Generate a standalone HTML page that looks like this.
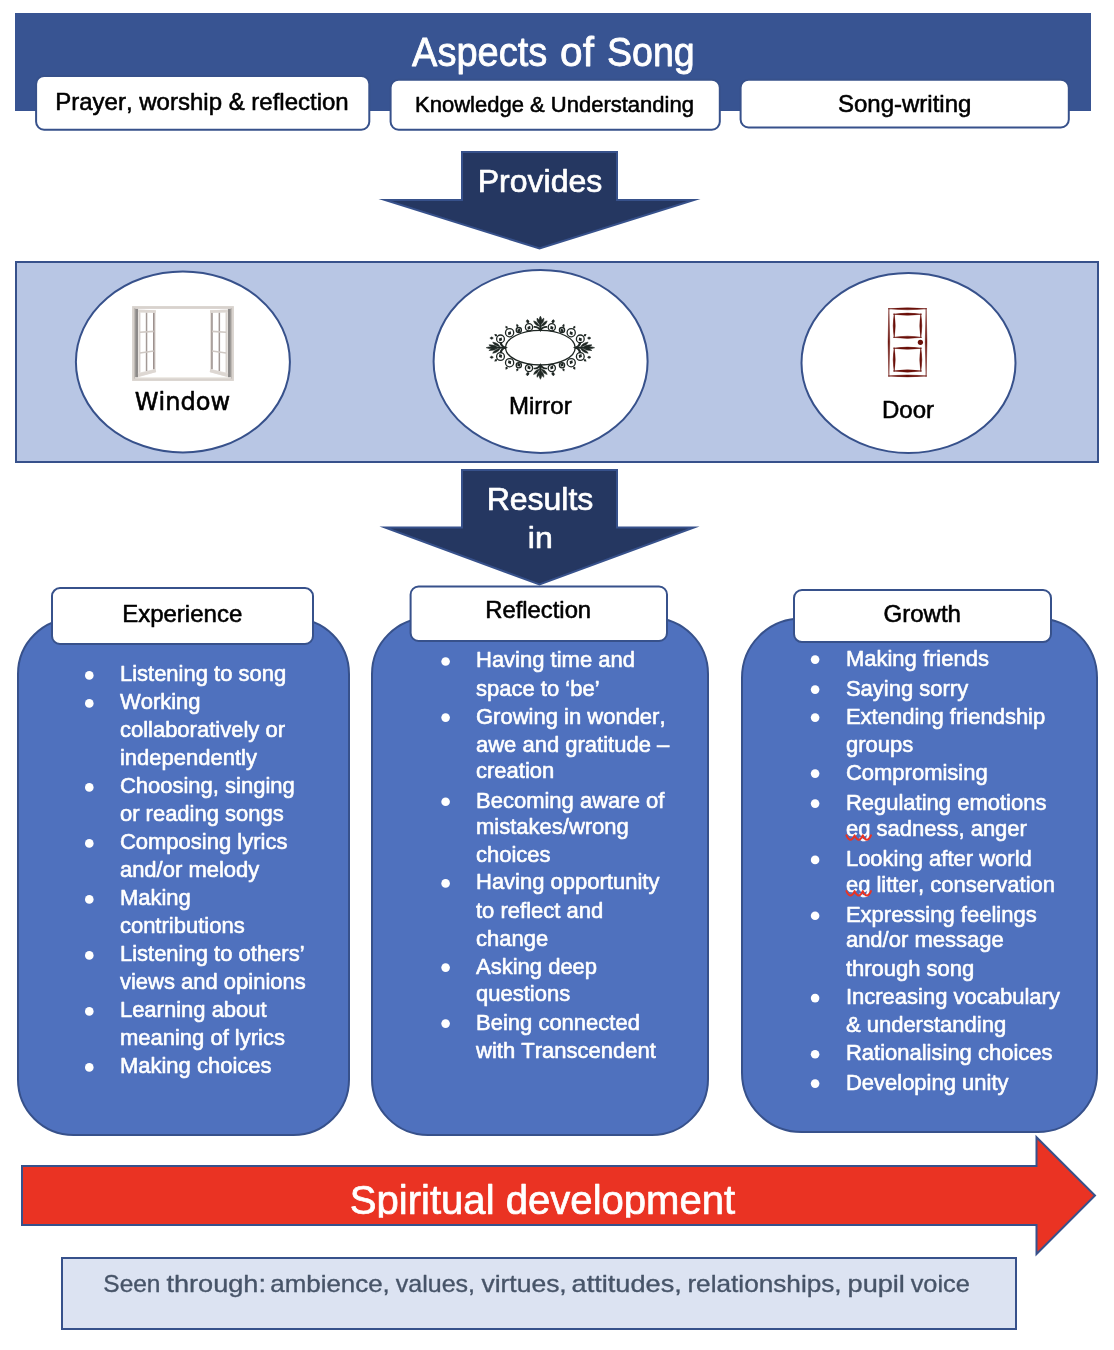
<!DOCTYPE html>
<html lang="en">
<head>
<meta charset="utf-8">
<title>Aspects of Song</title>
<style>
html,body{margin:0;padding:0;background:#fff;}
body{width:1114px;height:1350px;overflow:hidden;}
svg{display:block;will-change:transform;}
text{font-family:"Liberation Sans",sans-serif;font-kerning:none;font-variant-ligatures:none;stroke-width:0.4px;stroke-linejoin:round;}
.dj{font-family:"DejaVu Sans","Liberation Sans",sans-serif;}
.w{fill:#fff;stroke:#fff;stroke-width:0.7px;}
.k{fill:#000;stroke:#000;stroke-width:0.55px;}
.li{font-size:22px;fill:#fff;stroke:#fff;stroke-width:0.6px;}
.lab{font-size:24px;fill:#000;stroke:#000;stroke-width:0.55px;}
</style>
</head>
<body>
<svg width="1114" height="1350" viewBox="0 0 1114 1350">

<rect x="15" y="13" width="1076" height="98" fill="#385492"/>
<text y="65.8" font-size="41" class="w" style="stroke-width:0.8px"><tspan x="412.1" textLength="135.16" lengthAdjust="spacingAndGlyphs">Aspects</tspan> <tspan x="560.11" textLength="33.79" lengthAdjust="spacingAndGlyphs">of</tspan> <tspan x="606.98" textLength="87.67" lengthAdjust="spacingAndGlyphs">Song</tspan></text>
<rect x="36.1" y="75.9" width="333.2" height="53.79999999999998" rx="8" ry="8" fill="#fff" stroke="#37518B" stroke-width="2"/>
<rect x="390.6" y="79.8" width="329.19999999999993" height="49.89999999999999" rx="8" ry="8" fill="#fff" stroke="#37518B" stroke-width="2"/>
<rect x="740.6" y="79.8" width="328.19999999999993" height="47.7" rx="8" ry="8" fill="#fff" stroke="#37518B" stroke-width="2"/>
<text x="202" y="109.5" text-anchor="middle" font-size="24" class="k">Prayer, worship &amp; reflection</text>
<text x="554.5" y="111.5" text-anchor="middle" font-size="22" class="k">Knowledge &amp; Understanding</text>
<text x="904.7" y="111.5" text-anchor="middle" font-size="24" class="k">Song-writing</text>
<polygon points="462,152 617,152 617,200 694,200 539.5,248.55 385,200 462,200" fill="#253761" stroke="#37518B" stroke-width="2" stroke-linejoin="miter" stroke-miterlimit="12"/>
<text x="540" y="191.5" text-anchor="middle" font-size="32" class="w">Provides</text>
<rect x="16" y="262" width="1082" height="200" fill="#B8C6E4" stroke="#37518B" stroke-width="2"/>
<ellipse cx="182.9" cy="361.9" rx="107" ry="90.5" fill="#fff" stroke="#37518B" stroke-width="2"/>
<ellipse cx="540.6" cy="361.4" rx="107" ry="91.5" fill="#fff" stroke="#37518B" stroke-width="2"/>
<ellipse cx="908.5" cy="362.9" rx="107" ry="90" fill="#fff" stroke="#37518B" stroke-width="2"/>
<g id="window-icon">
<rect x="132.1" y="306.1" width="101.8" height="74.8" fill="#D8D2CD"/>
<rect x="134.9" y="308.9" width="96.2" height="69" fill="#FFFFFF"/>
<rect x="134.9" y="308.9" width="3.2" height="69" fill="#8D8A89"/>
<rect x="227.9" y="308.9" width="3.2" height="69" fill="#8D8A89"/>
<rect x="134.2" y="308.2" width="1.2" height="70.4" fill="#B9B3AF"/>
<rect x="230.6" y="308.2" width="1.2" height="70.4" fill="#B9B3AF"/>
<rect x="134.9" y="377.2" width="96.2" height="1.2" fill="#EAE6E2"/>
<polygon points="138.1,309.6 155.8,310.2 155.8,372.3 138.1,377.2" fill="#E6E1DD"/>
<polygon points="139.9,312.4 153.8,312.8 153.8,369.3 139.9,372.6" fill="#FFFFFF"/>
<line x1="153.8" y1="312.8" x2="153.8" y2="369.3" stroke="#8C7F7C" stroke-width="1.3"/>
<line x1="139.9" y1="312.4" x2="139.9" y2="372.6" stroke="#C9C2BD" stroke-width="0.8"/>
<line x1="146.55" y1="312.6" x2="146.55" y2="371" stroke="#A39996" stroke-width="1.5"/>
<line x1="139.9" y1="332.2" x2="153.8" y2="331.4" stroke="#CFC8C3" stroke-width="1.6"/>
<line x1="139.9" y1="353" x2="153.8" y2="351" stroke="#CFC8C3" stroke-width="1.6"/>
<line x1="138.1" y1="311" x2="155.8" y2="311.5" stroke="#DDD7D2" stroke-width="2.6"/>
<line x1="138.1" y1="375.2" x2="155.8" y2="370.6" stroke="#DDD7D2" stroke-width="3"/>
<polygon points="227.9,309.6 210.0,310.2 210.0,372.3 227.9,377.2" fill="#E6E1DD"/>
<polygon points="226.1,312.4 212.0,312.8 212.0,369.3 226.1,372.6" fill="#FFFFFF"/>
<line x1="212.0" y1="312.8" x2="212.0" y2="369.3" stroke="#8C7F7C" stroke-width="1.3"/>
<line x1="226.1" y1="312.4" x2="226.1" y2="372.6" stroke="#C9C2BD" stroke-width="0.8"/>
<line x1="219.35000000000002" y1="312.6" x2="219.35000000000002" y2="371" stroke="#A39996" stroke-width="1.5"/>
<line x1="226.1" y1="332.2" x2="212.0" y2="331.4" stroke="#CFC8C3" stroke-width="1.6"/>
<line x1="226.1" y1="353" x2="212.0" y2="351" stroke="#CFC8C3" stroke-width="1.6"/>
<line x1="227.9" y1="311" x2="210.0" y2="311.5" stroke="#DDD7D2" stroke-width="2.6"/>
<line x1="227.9" y1="375.2" x2="210.0" y2="370.6" stroke="#DDD7D2" stroke-width="3"/>
</g>
<g id="mirror-icon" transform="translate(540.4,347.7)">
<ellipse cx="0" cy="0" rx="34.8" ry="17.3" fill="#fff" stroke="#1E2623" stroke-width="1.3"/>
<g transform="translate(0.00,-17.60) rotate(0.0) scale(1.0,1.0)"><path d="M0,-14 C1.7,-11.5 1.7,-8.5 0,-6.3 C-1.7,-8.5 -1.7,-11.5 0,-14Z M-3.4,-12 C-1.6,-11 -0.5,-9 -0.7,-6 C-2.7,-7.2 -3.8,-9.5 -3.4,-12Z M3.4,-12 C1.6,-11 0.5,-9 0.7,-6 C2.7,-7.2 3.8,-9.5 3.4,-12Z M-6.8,-9.2 C-4.2,-8.8 -1.9,-6.8 -0.9,-3.8 C-3.9,-4.3 -6.1,-6.3 -6.8,-9.2Z M6.8,-9.2 C4.2,-8.8 1.9,-6.8 0.9,-3.8 C3.9,-4.3 6.1,-6.3 6.8,-9.2Z M-0.8,-7 L0.8,-7 L0.9,0 L-0.9,0Z" fill="#1E2623" stroke="#1E2623" stroke-width="0.5" stroke-linejoin="round"/><path d="M-6,-3.2 C-3.4,-3.2 -1.2,-1.8 0,0.3 C1.2,-1.8 3.4,-3.2 6,-3.2" fill="none" stroke="#1E2623" stroke-width="1.7" stroke-linecap="round"/></g>
<g transform="translate(0.00,17.60) rotate(180.0) scale(1.0,1.0)"><path d="M0,-14 C1.7,-11.5 1.7,-8.5 0,-6.3 C-1.7,-8.5 -1.7,-11.5 0,-14Z M-3.4,-12 C-1.6,-11 -0.5,-9 -0.7,-6 C-2.7,-7.2 -3.8,-9.5 -3.4,-12Z M3.4,-12 C1.6,-11 0.5,-9 0.7,-6 C2.7,-7.2 3.8,-9.5 3.4,-12Z M-6.8,-9.2 C-4.2,-8.8 -1.9,-6.8 -0.9,-3.8 C-3.9,-4.3 -6.1,-6.3 -6.8,-9.2Z M6.8,-9.2 C4.2,-8.8 1.9,-6.8 0.9,-3.8 C3.9,-4.3 6.1,-6.3 6.8,-9.2Z M-0.8,-7 L0.8,-7 L0.9,0 L-0.9,0Z" fill="#1E2623" stroke="#1E2623" stroke-width="0.5" stroke-linejoin="round"/><path d="M-6,-3.2 C-3.4,-3.2 -1.2,-1.8 0,0.3 C1.2,-1.8 3.4,-3.2 6,-3.2" fill="none" stroke="#1E2623" stroke-width="1.7" stroke-linecap="round"/></g>
<g transform="translate(-35.20,0.00) rotate(-90.0) scale(0.82,1.36)"><path d="M0,-14 C1.7,-11.5 1.7,-8.5 0,-6.3 C-1.7,-8.5 -1.7,-11.5 0,-14Z M-3.4,-12 C-1.6,-11 -0.5,-9 -0.7,-6 C-2.7,-7.2 -3.8,-9.5 -3.4,-12Z M3.4,-12 C1.6,-11 0.5,-9 0.7,-6 C2.7,-7.2 3.8,-9.5 3.4,-12Z M-6.8,-9.2 C-4.2,-8.8 -1.9,-6.8 -0.9,-3.8 C-3.9,-4.3 -6.1,-6.3 -6.8,-9.2Z M6.8,-9.2 C4.2,-8.8 1.9,-6.8 0.9,-3.8 C3.9,-4.3 6.1,-6.3 6.8,-9.2Z M-0.8,-7 L0.8,-7 L0.9,0 L-0.9,0Z" fill="#1E2623" stroke="#1E2623" stroke-width="0.5" stroke-linejoin="round"/><path d="M-6,-3.2 C-3.4,-3.2 -1.2,-1.8 0,0.3 C1.2,-1.8 3.4,-3.2 6,-3.2" fill="none" stroke="#1E2623" stroke-width="1.7" stroke-linecap="round"/></g>
<g transform="translate(35.20,0.00) rotate(90.0) scale(0.82,1.36)"><path d="M0,-14 C1.7,-11.5 1.7,-8.5 0,-6.3 C-1.7,-8.5 -1.7,-11.5 0,-14Z M-3.4,-12 C-1.6,-11 -0.5,-9 -0.7,-6 C-2.7,-7.2 -3.8,-9.5 -3.4,-12Z M3.4,-12 C1.6,-11 0.5,-9 0.7,-6 C2.7,-7.2 3.8,-9.5 3.4,-12Z M-6.8,-9.2 C-4.2,-8.8 -1.9,-6.8 -0.9,-3.8 C-3.9,-4.3 -6.1,-6.3 -6.8,-9.2Z M6.8,-9.2 C4.2,-8.8 1.9,-6.8 0.9,-3.8 C3.9,-4.3 6.1,-6.3 6.8,-9.2Z M-0.8,-7 L0.8,-7 L0.9,0 L-0.9,0Z" fill="#1E2623" stroke="#1E2623" stroke-width="0.5" stroke-linejoin="round"/><path d="M-6,-3.2 C-3.4,-3.2 -1.2,-1.8 0,0.3 C1.2,-1.8 3.4,-3.2 6,-3.2" fill="none" stroke="#1E2623" stroke-width="1.7" stroke-linecap="round"/></g>
<circle cx="-39.90" cy="-8.80" r="3.9" fill="none" stroke="#1E2623" stroke-width="1.3"/>
<path transform="translate(-39.90,-8.30) rotate(30)" d="M0,-2.3 L1.8,0 L0,2.3 L-1.8,0Z" fill="#1E2623"/>
<path transform="translate(-44.51,-12.49) rotate(-51)" d="M0,-2.0 L1.3,0 L0,1.6 L-1.3,0Z" fill="#1E2623"/>
<circle cx="-30.80" cy="-15.00" r="4.1" fill="none" stroke="#1E2623" stroke-width="1.3"/>
<path transform="translate(-30.80,-14.50) rotate(30)" d="M0,-2.3 L1.8,0 L0,2.3 L-1.8,0Z" fill="#1E2623"/>
<path transform="translate(-33.80,-20.31) rotate(-30)" d="M0,-2.0 L1.3,0 L0,1.6 L-1.3,0Z" fill="#1E2623"/>
<circle cx="-21.60" cy="-17.60" r="2.6" fill="none" stroke="#1E2623" stroke-width="1.3"/>
<path transform="translate(-21.60,-17.10) rotate(30)" d="M0,-2.3 L1.8,0 L0,2.3 L-1.8,0Z" fill="#1E2623"/>
<path transform="translate(-23.07,-21.96) rotate(-19)" d="M0,-2.0 L1.3,0 L0,1.6 L-1.3,0Z" fill="#1E2623"/>
<circle cx="-11.40" cy="-20.40" r="3.6" fill="none" stroke="#1E2623" stroke-width="1.3"/>
<path transform="translate(-11.40,-19.90) rotate(30)" d="M0,-2.3 L1.8,0 L0,2.3 L-1.8,0Z" fill="#1E2623"/>
<path transform="translate(-12.25,-25.93) rotate(-9)" d="M0,-2.0 L1.3,0 L0,1.6 L-1.3,0Z" fill="#1E2623"/>
<path transform="translate(13.00,-26.60) rotate(180)" d="M0,-2.0 L1.3,0 L0,1.6 L-1.3,0Z" fill="#1E2623" stroke="#1E2623" stroke-width="0.4"/>
<path transform="translate(48.60,-9.60) rotate(90)" d="M0,-2.0 L1.3,0 L0,1.6 L-1.3,0Z" fill="#1E2623" stroke="#1E2623" stroke-width="0.4"/>
<circle cx="-39.90" cy="8.80" r="3.9" fill="none" stroke="#1E2623" stroke-width="1.3"/>
<path transform="translate(-39.90,8.30) rotate(-30)" d="M0,-2.3 L1.8,0 L0,2.3 L-1.8,0Z" fill="#1E2623"/>
<path transform="translate(-44.51,12.49) rotate(231)" d="M0,-2.0 L1.3,0 L0,1.6 L-1.3,0Z" fill="#1E2623"/>
<circle cx="-30.80" cy="15.00" r="4.1" fill="none" stroke="#1E2623" stroke-width="1.3"/>
<path transform="translate(-30.80,14.50) rotate(-30)" d="M0,-2.3 L1.8,0 L0,2.3 L-1.8,0Z" fill="#1E2623"/>
<path transform="translate(-33.80,20.31) rotate(210)" d="M0,-2.0 L1.3,0 L0,1.6 L-1.3,0Z" fill="#1E2623"/>
<circle cx="-21.60" cy="17.60" r="2.6" fill="none" stroke="#1E2623" stroke-width="1.3"/>
<path transform="translate(-21.60,17.10) rotate(-30)" d="M0,-2.3 L1.8,0 L0,2.3 L-1.8,0Z" fill="#1E2623"/>
<path transform="translate(-23.07,21.96) rotate(199)" d="M0,-2.0 L1.3,0 L0,1.6 L-1.3,0Z" fill="#1E2623"/>
<circle cx="-11.40" cy="20.40" r="3.6" fill="none" stroke="#1E2623" stroke-width="1.3"/>
<path transform="translate(-11.40,19.90) rotate(-30)" d="M0,-2.3 L1.8,0 L0,2.3 L-1.8,0Z" fill="#1E2623"/>
<path transform="translate(-12.25,25.93) rotate(189)" d="M0,-2.0 L1.3,0 L0,1.6 L-1.3,0Z" fill="#1E2623"/>
<path transform="translate(13.00,26.60) rotate(0)" d="M0,-2.0 L1.3,0 L0,1.6 L-1.3,0Z" fill="#1E2623" stroke="#1E2623" stroke-width="0.4"/>
<path transform="translate(48.60,9.60) rotate(90)" d="M0,-2.0 L1.3,0 L0,1.6 L-1.3,0Z" fill="#1E2623" stroke="#1E2623" stroke-width="0.4"/>
<circle cx="39.90" cy="-8.80" r="3.9" fill="none" stroke="#1E2623" stroke-width="1.3"/>
<path transform="translate(39.90,-8.30) rotate(-30)" d="M0,-2.3 L1.8,0 L0,2.3 L-1.8,0Z" fill="#1E2623"/>
<path transform="translate(44.51,-12.49) rotate(51)" d="M0,-2.0 L1.3,0 L0,1.6 L-1.3,0Z" fill="#1E2623"/>
<circle cx="30.80" cy="-15.00" r="4.1" fill="none" stroke="#1E2623" stroke-width="1.3"/>
<path transform="translate(30.80,-14.50) rotate(-30)" d="M0,-2.3 L1.8,0 L0,2.3 L-1.8,0Z" fill="#1E2623"/>
<path transform="translate(33.80,-20.31) rotate(30)" d="M0,-2.0 L1.3,0 L0,1.6 L-1.3,0Z" fill="#1E2623"/>
<circle cx="21.60" cy="-17.60" r="2.6" fill="none" stroke="#1E2623" stroke-width="1.3"/>
<path transform="translate(21.60,-17.10) rotate(-30)" d="M0,-2.3 L1.8,0 L0,2.3 L-1.8,0Z" fill="#1E2623"/>
<path transform="translate(23.07,-21.96) rotate(19)" d="M0,-2.0 L1.3,0 L0,1.6 L-1.3,0Z" fill="#1E2623"/>
<circle cx="11.40" cy="-20.40" r="3.6" fill="none" stroke="#1E2623" stroke-width="1.3"/>
<path transform="translate(11.40,-19.90) rotate(-30)" d="M0,-2.3 L1.8,0 L0,2.3 L-1.8,0Z" fill="#1E2623"/>
<path transform="translate(12.25,-25.93) rotate(9)" d="M0,-2.0 L1.3,0 L0,1.6 L-1.3,0Z" fill="#1E2623"/>
<path transform="translate(-13.00,-26.60) rotate(180)" d="M0,-2.0 L1.3,0 L0,1.6 L-1.3,0Z" fill="#1E2623" stroke="#1E2623" stroke-width="0.4"/>
<path transform="translate(-48.60,-9.60) rotate(-90)" d="M0,-2.0 L1.3,0 L0,1.6 L-1.3,0Z" fill="#1E2623" stroke="#1E2623" stroke-width="0.4"/>
<circle cx="39.90" cy="8.80" r="3.9" fill="none" stroke="#1E2623" stroke-width="1.3"/>
<path transform="translate(39.90,8.30) rotate(30)" d="M0,-2.3 L1.8,0 L0,2.3 L-1.8,0Z" fill="#1E2623"/>
<path transform="translate(44.51,12.49) rotate(129)" d="M0,-2.0 L1.3,0 L0,1.6 L-1.3,0Z" fill="#1E2623"/>
<circle cx="30.80" cy="15.00" r="4.1" fill="none" stroke="#1E2623" stroke-width="1.3"/>
<path transform="translate(30.80,14.50) rotate(30)" d="M0,-2.3 L1.8,0 L0,2.3 L-1.8,0Z" fill="#1E2623"/>
<path transform="translate(33.80,20.31) rotate(150)" d="M0,-2.0 L1.3,0 L0,1.6 L-1.3,0Z" fill="#1E2623"/>
<circle cx="21.60" cy="17.60" r="2.6" fill="none" stroke="#1E2623" stroke-width="1.3"/>
<path transform="translate(21.60,17.10) rotate(30)" d="M0,-2.3 L1.8,0 L0,2.3 L-1.8,0Z" fill="#1E2623"/>
<path transform="translate(23.07,21.96) rotate(161)" d="M0,-2.0 L1.3,0 L0,1.6 L-1.3,0Z" fill="#1E2623"/>
<circle cx="11.40" cy="20.40" r="3.6" fill="none" stroke="#1E2623" stroke-width="1.3"/>
<path transform="translate(11.40,19.90) rotate(30)" d="M0,-2.3 L1.8,0 L0,2.3 L-1.8,0Z" fill="#1E2623"/>
<path transform="translate(12.25,25.93) rotate(171)" d="M0,-2.0 L1.3,0 L0,1.6 L-1.3,0Z" fill="#1E2623"/>
<path transform="translate(-13.00,26.60) rotate(0)" d="M0,-2.0 L1.3,0 L0,1.6 L-1.3,0Z" fill="#1E2623" stroke="#1E2623" stroke-width="0.4"/>
<path transform="translate(-48.60,9.60) rotate(-90)" d="M0,-2.0 L1.3,0 L0,1.6 L-1.3,0Z" fill="#1E2623" stroke="#1E2623" stroke-width="0.4"/>
</g>
<g id="door-icon">
<path d="M888.2,308.8 Q907.5,306.8 926.8,308.8 Q907.5,310.8 888.2,308.8Z M888.2,375.9 Q907.5,373.9 926.8,375.9 Q907.5,377.9 888.2,375.9Z M888.9,308.0 Q887.1999999999999,342.35 888.9,376.7 Q890.6,342.35 888.9,308.0Z M926.1,308.0 Q924.4,342.35 926.1,376.7 Q927.8000000000001,342.35 926.1,308.0Z M893.2,314.2 Q907.5,311.9 921.8,314.2 Q907.5,316.5 893.2,314.2Z M893.2,337.3 Q907.5,335.0 921.8,337.3 Q907.5,339.6 893.2,337.3Z M894.2,313.59999999999997 Q892.1,325.75 894.2,337.90000000000003 Q896.3000000000001,325.75 894.2,313.59999999999997Z M920.8,313.59999999999997 Q918.6999999999999,325.75 920.8,337.90000000000003 Q922.9,325.75 920.8,313.59999999999997Z M893.2,348.2 Q907.5,345.9 921.8,348.2 Q907.5,350.5 893.2,348.2Z M893.2,371.0 Q907.5,368.7 921.8,371.0 Q907.5,373.3 893.2,371.0Z M894.2,347.59999999999997 Q892.1,359.6 894.2,371.6 Q896.3000000000001,359.6 894.2,347.59999999999997Z M920.8,347.59999999999997 Q918.6999999999999,359.6 920.8,371.6 Q922.9,359.6 920.8,347.59999999999997Z" fill="#6A0F08" stroke="#6A0F08" stroke-width="0.45" stroke-linejoin="round"/>
<circle cx="920.4" cy="342.3" r="2.6" fill="#6A0F08"/>
</g>
<text x="182.5" y="409.7" text-anchor="middle" font-size="24.1" class="k dj">Window</text>
<text x="540.3" y="413.5" text-anchor="middle" font-size="24" class="k">Mirror</text>
<text x="908" y="418" text-anchor="middle" font-size="24" class="k">Door</text>
<polygon points="462,470 617,470 617,527.5 694,527.5 539.5,584.5 385,527.5 462,527.5" fill="#253761" stroke="#37518B" stroke-width="2" stroke-linejoin="miter" stroke-miterlimit="12"/>
<text x="540" y="509.7" text-anchor="middle" font-size="32" class="w">Results</text>
<text transform="translate(540.3,548.1) scale(1,0.935)" x="0" y="0" text-anchor="middle" font-size="32" class="w">in</text>
<rect x="18" y="618.5" width="331" height="516.5" rx="55.5" ry="55.5" fill="#4F71BE" stroke="#37518B" stroke-width="2"/>
<rect x="372" y="618" width="336" height="517" rx="56" ry="56" fill="#4F71BE" stroke="#37518B" stroke-width="2"/>
<rect x="742" y="618.5" width="355" height="513.5" rx="59.3" ry="59.3" fill="#4F71BE" stroke="#37518B" stroke-width="2"/>
<rect x="52" y="588.1" width="261" height="55.89999999999998" rx="8" ry="8" fill="#fff" stroke="#37518B" stroke-width="2"/>
<rect x="410.6" y="586.5" width="256.4" height="54.5" rx="8" ry="8" fill="#fff" stroke="#37518B" stroke-width="2"/>
<rect x="794" y="590" width="257" height="52.10000000000002" rx="8" ry="8" fill="#fff" stroke="#37518B" stroke-width="2"/>
<text x="182.2" y="621.8" text-anchor="middle" class="lab">Experience</text>
<text x="538.2" y="617.7" text-anchor="middle" class="lab" style="font-size:23.8px">Reflection</text>
<text x="922.3" y="621.8" text-anchor="middle" class="lab">Growth</text>
<circle cx="89.3" cy="675.4" r="4.3" fill="#fff"/>
<text x="119.9" y="681.3" class="li">Listening to song</text>
<circle cx="89.3" cy="703.4" r="4.3" fill="#fff"/>
<text x="119.9" y="709.3" class="li">Working</text>
<text x="119.9" y="737.3" class="li">collaboratively or</text>
<text x="119.9" y="765.3" class="li">independently</text>
<circle cx="89.3" cy="787.4" r="4.3" fill="#fff"/>
<text x="119.9" y="793.3" class="li">Choosing, singing</text>
<text x="119.9" y="821.3" class="li">or reading songs</text>
<circle cx="89.3" cy="843.4" r="4.3" fill="#fff"/>
<text x="119.9" y="849.3" class="li">Composing lyrics</text>
<text x="119.9" y="877.3" class="li">and/or melody</text>
<circle cx="89.3" cy="899.4" r="4.3" fill="#fff"/>
<text x="119.9" y="905.3" class="li">Making</text>
<text x="119.9" y="933.3" class="li">contributions</text>
<circle cx="89.3" cy="955.4" r="4.3" fill="#fff"/>
<text x="119.9" y="961.3" class="li">Listening to others’</text>
<text x="119.9" y="989.3" class="li">views and opinions</text>
<circle cx="89.3" cy="1011.4" r="4.3" fill="#fff"/>
<text x="119.9" y="1017.3" class="li">Learning about</text>
<text x="119.9" y="1045.3" class="li">meaning of lyrics</text>
<circle cx="89.3" cy="1067.4" r="4.3" fill="#fff"/>
<text x="119.9" y="1073.3" class="li">Making choices</text>
<circle cx="445.6" cy="661.5" r="4.3" fill="#fff"/>
<text x="476" y="667.4" class="li">Having time and</text>
<text x="476" y="695.5" class="li">space to ‘be’</text>
<circle cx="445.6" cy="717.6" r="4.3" fill="#fff"/>
<text x="476" y="723.5" class="li">Growing in wonder,</text>
<text x="476" y="751.5" class="li">awe and gratitude –</text>
<text x="476" y="777.5" class="li">creation</text>
<circle cx="445.6" cy="801.8" r="4.3" fill="#fff"/>
<text x="476" y="807.7" class="li">Becoming aware of</text>
<text x="476" y="833.7" class="li">mistakes/wrong</text>
<text x="476" y="861.5" class="li">choices</text>
<circle cx="445.6" cy="883.4" r="4.3" fill="#fff"/>
<text x="476" y="889.3" class="li">Having opportunity</text>
<text x="476" y="917.5" class="li">to reflect and</text>
<text x="476" y="945.8" class="li">change</text>
<circle cx="445.6" cy="967.6" r="4.3" fill="#fff"/>
<text x="476" y="973.5" class="li">Asking deep</text>
<text x="476" y="1001.2" class="li">questions</text>
<circle cx="445.6" cy="1023.6" r="4.3" fill="#fff"/>
<text x="476" y="1029.5" class="li">Being connected</text>
<text x="476" y="1057.5" class="li">with Transcendent</text>
<circle cx="815.1" cy="659.6" r="4.3" fill="#fff"/>
<text x="845.9" y="665.5" class="li">Making friends</text>
<circle cx="815.1" cy="689.6" r="4.3" fill="#fff"/>
<text x="845.9" y="695.5" class="li">Saying sorry</text>
<circle cx="815.1" cy="717.6" r="4.3" fill="#fff"/>
<text x="845.9" y="723.5" class="li">Extending friendship</text>
<text x="845.9" y="751.6" class="li">groups</text>
<circle cx="815.1" cy="773.6" r="4.3" fill="#fff"/>
<text x="845.9" y="779.5" class="li">Compromising</text>
<circle cx="815.1" cy="803.6" r="4.3" fill="#fff"/>
<text x="845.9" y="809.5" class="li">Regulating emotions</text>
<text x="845.9" y="836" class="li">eg sadness, anger</text>
<circle cx="815.1" cy="859.9" r="4.3" fill="#fff"/>
<text x="845.9" y="865.8" class="li">Looking after world</text>
<text x="845.9" y="891.6" class="li">eg litter, conservation</text>
<circle cx="815.1" cy="915.7" r="4.3" fill="#fff"/>
<text x="845.9" y="921.6" class="li">Expressing feelings</text>
<text x="845.9" y="947.3" class="li">and/or message</text>
<text x="845.9" y="975.5" class="li">through song</text>
<circle cx="815.1" cy="998.1" r="4.3" fill="#fff"/>
<text x="845.9" y="1004" class="li">Increasing vocabulary</text>
<text x="845.9" y="1031.5" class="li">&amp; understanding</text>
<circle cx="815.1" cy="1054.3" r="4.3" fill="#fff"/>
<text x="845.9" y="1060.2" class="li">Rationalising choices</text>
<circle cx="815.1" cy="1083.6" r="4.3" fill="#fff"/>
<text x="845.9" y="1089.5" class="li">Developing unity</text>
<path d="M846.4,835.3 q4.10,8.8 8.20,0 q4.10,8.8 8.20,0 q4.10,8.8 8.20,0" fill="none" stroke="#EA3323" stroke-width="2" stroke-linecap="round" stroke-linejoin="round"/>
<path d="M846.4,891.1 q4.10,8.8 8.20,0 q4.10,8.8 8.20,0 q4.10,8.8 8.20,0" fill="none" stroke="#EA3323" stroke-width="2" stroke-linecap="round" stroke-linejoin="round"/>
<polygon points="22,1166 1036.5,1166 1036.5,1137.2 1095,1195.5 1036.5,1254 1036.5,1225 22,1225" fill="#EA3323" stroke="#37518B" stroke-width="2"/>
<clipPath id="sdclip"><rect x="300" y="1170" width="500" height="47.8"/></clipPath>
<text x="542.5" y="1214" text-anchor="middle" font-size="41" class="w" textLength="385.5" lengthAdjust="spacingAndGlyphs" clip-path="url(#sdclip)">Spiritual development</text>
<rect x="62" y="1258" width="954" height="71" fill="#DCE3F2" stroke="#37518B" stroke-width="2"/>
<text y="1292" font-size="24" fill="#475468" stroke="#475468" style="stroke-width:0.35px"><tspan x="103.38" textLength="57.09" lengthAdjust="spacingAndGlyphs">Seen</tspan> <tspan x="166.4" textLength="99.59" lengthAdjust="spacingAndGlyphs">through:</tspan> <tspan x="270.32" textLength="119.48" lengthAdjust="spacingAndGlyphs">ambience,</tspan> <tspan x="395.8" textLength="79.24" lengthAdjust="spacingAndGlyphs">values,</tspan> <tspan x="481.4" textLength="85.34" lengthAdjust="spacingAndGlyphs">virtues,</tspan> <tspan x="571.57" textLength="110.22" lengthAdjust="spacingAndGlyphs">attitudes,</tspan> <tspan x="687.41" textLength="154.21" lengthAdjust="spacingAndGlyphs">relationships,</tspan> <tspan x="847.57" textLength="57.34" lengthAdjust="spacingAndGlyphs">pupil</tspan> <tspan x="910.7" textLength="59.07" lengthAdjust="spacingAndGlyphs">voice</tspan></text>
</svg>
</body>
</html>
